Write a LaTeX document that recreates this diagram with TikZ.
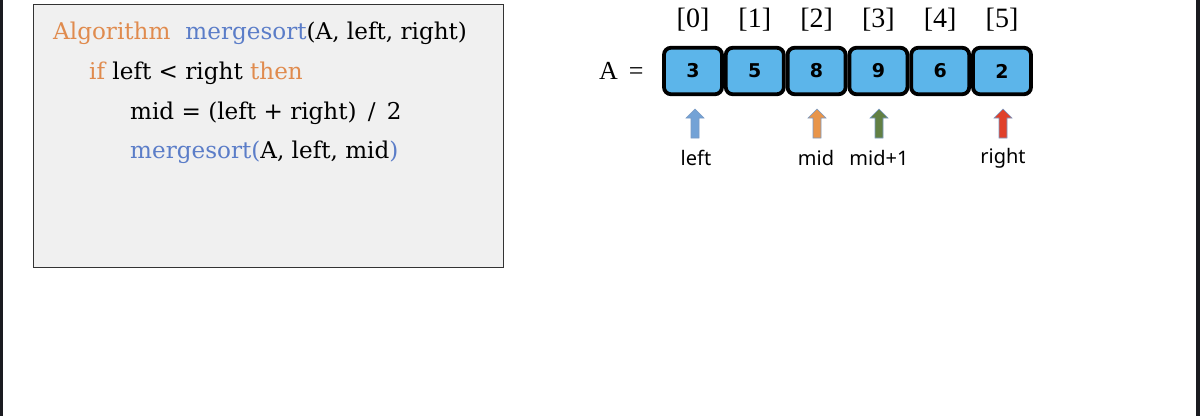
\documentclass[tikz,border=0pt]{standalone}
\usepackage{fontspec}
\newfontfamily\tnr{Liberation Serif}
\newfontfamily\lblf{Noto Sans}
\newfontfamily\numf{DejaVu Sans}
\newfontfamily\codef{DejaVu Serif}
\definecolor{codeorange}{HTML}{E08B4E}
\definecolor{codeblue}{HTML}{5B7DC8}
\definecolor{panelfill}{HTML}{F0F0F0}
\definecolor{panelborder}{HTML}{333333}
\definecolor{cellfill}{HTML}{5CB5EA}
\definecolor{stripc}{HTML}{1A1B20}
\definecolor{arrleft}{HTML}{73A2D6}
\definecolor{arrmid}{HTML}{E8954A}
\definecolor{arrmidp}{HTML}{628044}
\definecolor{arrright}{HTML}{E0402A}
\definecolor{arredge}{HTML}{7A9AC4}
\begin{document}
\begin{tikzpicture}[x=1pt,y=-1pt,
  codeline/.style={anchor=base west, inner sep=0, font=\codef\fontsize{23.1}{23.1}\selectfont},
  cellbox/.style={draw=black, fill=cellfill, line width=3.8pt, rounded corners=7pt,
    minimum width=58pt, minimum height=46.5pt, inner sep=0, font=\numf\bfseries\fontsize{19}{19}\selectfont},
  idxlabel/.style={inner sep=0, font=\tnr\fontsize{28}{28}\selectfont},
  ptrlabel/.style={inner sep=0, font=\lblf\fontsize{20}{20}\selectfont},
  ptrarrow/.style={draw=arredge, line width=0.6pt, line join=miter}]
\useasboundingbox (0,0) rectangle (1200,416);
\fill[stripc] (0,0) rectangle (3,416);
\fill[stripc] (1196,0) rectangle (1200,416);
% code panel
\node[draw=panelborder, fill=panelfill, line width=1pt, minimum width=470pt,
  minimum height=263pt, anchor=north west, inner sep=0] (panel) at (33,4) {};
\node[codeline] (l1) at (53,39) {\textcolor{codeorange}{Algorithm}\hspace{15pt}\textcolor{codeblue}{mergesort}(A, left, right)};
\node[codeline] (l2) at (89,79) {\textcolor{codeorange}{if} left < right \textcolor{codeorange}{then}};
\node[codeline] (l3) at (130,119) {mid = (left + right) \,/\, 2};
\node[codeline] (l4) at (130,158) {\textcolor{codeblue}{mergesort(}A, left, mid\textcolor{codeblue}{)}};
% array
\node[inner sep=0, font=\tnr\fontsize{26}{26}\selectfont, anchor=west] (Aeq) at (599,71) {A \,=};
\foreach \v [count=\i from 0] in {3,5,8,9,6,2} {
  \node[cellbox] (c\i) at ({693+61.8*\i},71) {\v};
  \node[idxlabel] (i\i) at ({693+61.8*\i},20) {[\i]};
}
% pointer arrows
\foreach \px/\col in {695/arrleft, 817/arrmid, 879/arrmidp, 1003/arrright} {
  \draw[ptrarrow, fill=\col] (\px-4,138) -- (\px-4,118) -- (\px-9,118) -- (\px,109)
    -- (\px+9,118) -- (\px+4,118) -- (\px+4,138) -- cycle;
}
\node[ptrlabel] (pleft) at (696,158) {left};
\node[ptrlabel] (pmid) at (816,158) {mid};
\node[ptrlabel] (pmidp) at (879,158) {mid+1};
\node[ptrlabel] (pright) at (1003,158) {right};
\end{tikzpicture}
\end{document}
